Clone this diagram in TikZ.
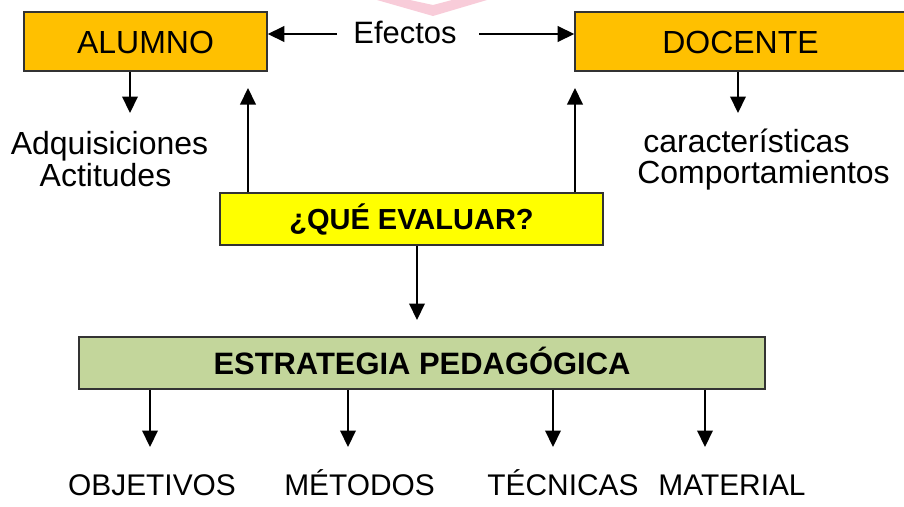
\documentclass[tikz,border=0pt]{standalone}
\usepackage{fontspec}
\setmainfont{Liberation Sans}
\usepackage{tikz}
\usetikzlibrary{arrows.meta}

\definecolor{naranja}{RGB}{255,192,0}
\definecolor{amarillo}{RGB}{255,255,0}
\definecolor{verdeclaro}{RGB}{195,214,155}
\definecolor{rosado}{RGB}{244,176,196}

\tikzset{
	caja/.style={draw=black!80, line width=0.3mm, rectangle, inner sep=0pt},
	texto/.style={inner sep=0pt, font=\fontsize{18.2}{18.2}\selectfont},
	textoabajo/.style={inner sep=0pt, font=\fontsize{17}{17}\selectfont},
	flecha/.style={-{Triangle[length=3.3mm,width=3.1mm]}, line width=0.42mm}
}

\begin{document}
\begin{tikzpicture}[x=0.2mm, y=-0.2mm]
			%%%%% START %%%%%
			
			\useasboundingbox (0, 0) rectangle (904, 507);
			\clip (0, 0) rectangle (904, 507);
			
			\fill[rosado, opacity=0.65] (377, 0) -- (433, 16) -- (487, 0) -- (452, 0) -- (433, 5) -- (410, 0) -- cycle;
			
			\node[caja, fill=naranja, minimum width=48.6mm, minimum height=11.8mm, text height=4.6mm, text depth=0pt, font=\fontsize{18.2}{18.2}\selectfont] (alumno) at (145.5, 41.5) {ALUMNO};
			\node[caja, fill=naranja, minimum width=66.2mm, minimum height=11.8mm, text height=4.6mm, text depth=0pt, font=\fontsize{18.2}{18.2}\selectfont] (docente) at (740.5, 41.5) {DOCENTE};
			
			\node[texto, anchor=base, font=\fontsize{17.6}{17.6}\selectfont] (efectos) at (405, 43) {Efectos};
			\coordinate (efizq) at (337, 34);
			\coordinate (efder) at (479, 34);
			\draw[flecha] (efizq) -- (efizq -| alumno.east);
			\draw[flecha] (efder) -- (efder -| docente.west);
			
			\node[texto, anchor=base] (adquisiciones) at (109.5, 154) {Adquisiciones};
			\node[texto, anchor=base] (actitudes) at (105.5, 186) {Actitudes};
			\node[texto, anchor=base west] (caracteristicas) at (643, 152) {características};
			\node[texto, anchor=base west] (comportamientos) at (637, 183) {Comportamientos};
			
			\coordinate (alumnoabajo) at (130, 113);
			\coordinate (docenteabajo) at (738, 113);
			\draw[flecha] (alumno.south -| alumnoabajo) -- (alumnoabajo);
			\draw[flecha] (docente.south -| docenteabajo) -- (docenteabajo);
			
			\node[caja, fill=amarillo, minimum width=76.6mm, minimum height=10.4mm, text height=4.15mm, text depth=0pt, font=\fontsize{16.5}{16.5}\selectfont\bfseries] (que) at (411.5, 219) {¿QUÉ EVALUAR?};
			
			\coordinate (alumnoarriba) at (248, 88);
			\coordinate (docentearriba) at (575, 88);
			\draw[flecha] (que.north -| alumnoarriba) -- (alumnoarriba);
			\draw[flecha] (que.north -| docentearriba) -- (docentearriba);
			
			\node[caja, fill=verdeclaro, minimum width=137.2mm, minimum height=10.4mm, text height=4.44mm, text depth=0pt, font=\fontsize{17.6}{17.6}\selectfont\bfseries] (estrategia) at (422, 363) {ESTRATEGIA PEDAGÓGICA};
			
			\coordinate (queabajo) at (417, 320);
			\draw[flecha] (que.south -| queabajo) -- (queabajo);
			
			\node[textoabajo, anchor=base] (objetivos) at (152, 495) {OBJETIVOS};
			\node[textoabajo, anchor=base] (metodos) at (359.5, 495) {MÉTODOS};
			\node[textoabajo, anchor=base] (tecnicas) at (563, 495) {TÉCNICAS};
			\node[textoabajo, anchor=base] (material) at (732, 495) {MATERIAL};
			
			\coordinate (objtip) at (150, 447);
			\coordinate (mettip) at (348, 447);
			\coordinate (tectip) at (553, 447);
			\coordinate (mattip) at (705, 447);
			\draw[flecha] (estrategia.south -| objtip) -- (objtip);
			\draw[flecha] (estrategia.south -| mettip) -- (mettip);
			\draw[flecha] (estrategia.south -| tectip) -- (tectip);
			\draw[flecha] (estrategia.south -| mattip) -- (mattip);
			
			%%%%% END %%%%%
\end{tikzpicture}
\end{document}
